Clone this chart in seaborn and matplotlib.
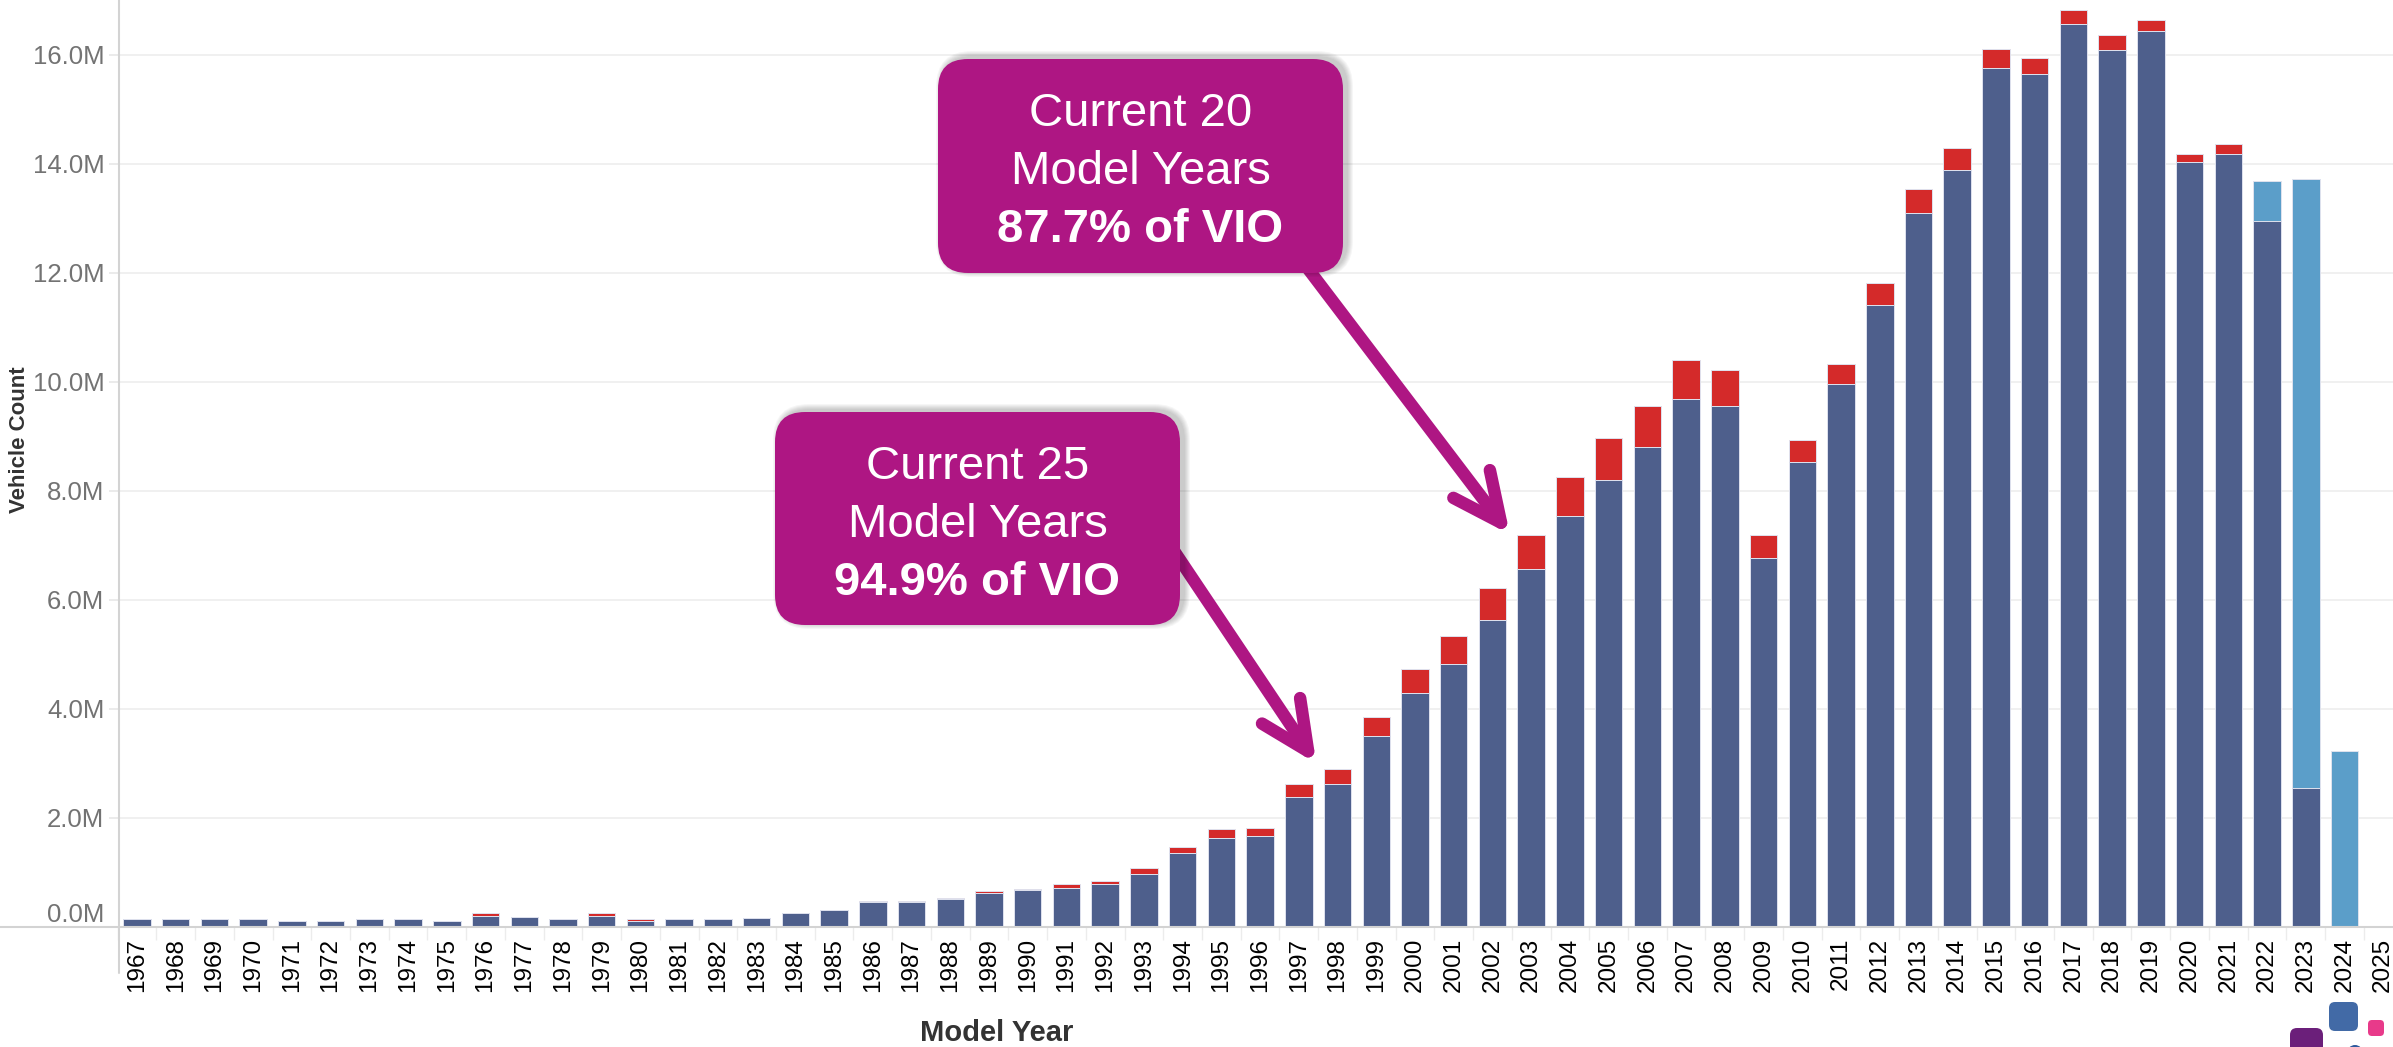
import numpy as np
import pandas as pd
import matplotlib.pyplot as plt
import seaborn as sns
from matplotlib.patches import FancyBboxPatch, Circle
from matplotlib.lines import Line2D
from matplotlib.transforms import IdentityTransform

W, H = 2393, 1047

# Data (millions of vehicles)
years = list(range(1967, 2026))
dark = [0.14, 0.14, 0.14, 0.14, 0.11, 0.11, 0.14, 0.14, 0.11, 0.21,   # 1967-1976
        0.18, 0.14, 0.21, 0.11, 0.14, 0.14, 0.17, 0.25, 0.31, 0.46,   # 1977-1986
        0.46, 0.51, 0.63, 0.67, 0.72, 0.78, 0.98, 1.35, 1.64, 1.67,   # 1987-1996
        2.38, 2.63, 3.50, 4.29, 4.83, 5.63, 6.56, 7.53, 8.19, 8.81,   # 1997-2006
        9.68, 9.56, 6.76, 8.52, 9.95, 11.40, 13.10, 13.89, 15.75, 15.64,  # 2007-2016
        16.56, 16.08, 16.43, 14.03, 14.18, 12.94, 2.54, 0.0, 0.0]     # 2017-2025
red = [0, 0, 0, 0, 0, 0, 0, 0, 0, 0.05,
       0, 0, 0.05, 0.04, 0, 0, 0, 0, 0, 0.02,
       0.02, 0.03, 0.03, 0.02, 0.06, 0.06, 0.10, 0.12, 0.15, 0.15,
       0.24, 0.26, 0.35, 0.45, 0.50, 0.59, 0.62, 0.72, 0.77, 0.75,
       0.71, 0.65, 0.42, 0.41, 0.38, 0.41, 0.44, 0.39, 0.36, 0.30,
       0.26, 0.27, 0.21, 0.15, 0.18, 0, 0, 0, 0]
light = [0] * 55 + [0.74, 11.17, 3.22, 0]

y_ticks = list(range(0, 17, 2))
y_labels = [f"{v:.1f}M" for v in y_ticks]

DARK = "#4e5f8c"
RED = "#d42a2a"
LIGHT = "#5b9ec9"
MAG = "#ae1683"

df = pd.DataFrame({"year": [str(y) for y in years], "dark": dark, "red": red, "light": light})
df["with_red"] = df["dark"] + df["red"]
df["with_light"] = df["dark"] + df["light"]

sns.set_theme(style="white")
plt.rcParams["font.family"] = ["Liberation Sans", "DejaVu Sans"]

fig = plt.figure(figsize=(W / 100, H / 100), dpi=100)
ax = fig.add_axes([117.6 / W, (H - 927) / H, 2285.0 / W, 927 / H])

for col, c in [("with_red", RED), ("with_light", LIGHT), ("dark", DARK)]:
    sns.barplot(data=df, x="year", y=col, color=c, saturation=1, width=0.71,
                errorbar=None, edgecolor="#dfe2ee", linewidth=0.7, ax=ax)

ax.set_xlim(-0.5, len(years) - 0.5)
ax.set_ylim(0, 17.0)
for s in ax.spines.values():
    s.set_visible(False)
ax.set_xlabel("")
ax.set_ylabel("")

ax.set_yticks(y_ticks)
ax.set_yticklabels(y_labels)
ax.yaxis.grid(True, color="#efefef", lw=1.3)
ax.set_axisbelow(True)
ax.tick_params(axis="y", left=True, length=6.5, width=1.1, color="#e6e6e6", pad=3,
               labelsize=18.5, labelcolor="#737373")
ax.get_yticklabels()[0].set_va("bottom")

ax.tick_params(axis="x", which="major", bottom=False, length=0, pad=8,
               labelsize=17.5, labelcolor="black", labelrotation=90)
ax.set_xticks(np.arange(-0.5, len(years), 1), minor=True)
ax.tick_params(axis="x", which="minor", bottom=True, length=9, width=1, color="#ececec")

# pane lines
pix = IdentityTransform()
fig.add_artist(Line2D([0, W], [H - 927, H - 927], transform=pix, color="#d3d3d3", lw=1.5))
fig.add_artist(Line2D([119, 119], [H, H - 973], transform=pix, color="#d3d3d3", lw=1.5))

fig.text(997, H - 1033, "Model Year", transform=pix, ha="center", va="center",
         fontsize=21, fontweight="bold", color="#333333")
fig.text(20, H - 440, "Vehicle Count", transform=pix, rotation=90, ha="center", va="center",
         fontsize=16, fontweight="bold", color="#333333")

# arrows
arrow_style = dict(arrowstyle="->,head_length=3.5,head_width=1.65", color=MAG, lw=9,
                   shrinkA=0, shrinkB=0, mutation_scale=10, capstyle="round", joinstyle="round")
ax.annotate("", xy=(35.45, 7.2), xycoords="data", xytext=(1290, H - 245),
            textcoords="figure pixels", arrowprops=arrow_style)
ax.annotate("", xy=(30.45, 3.0), xycoords="data", xytext=(1160, H - 530),
            textcoords="figure pixels", arrowprops=arrow_style)


def callout(x0, y0, w, h, l1, l2, l3):
    yb = H - (y0 + h)
    for k in range(1, 7):
        fig.add_artist(FancyBboxPatch((x0 + 4 - k, yb + 2 - k), w + 2 * k, h + 2 * k,
                                      boxstyle=f"round,pad=0,rounding_size={30 + k}",
                                      fc="black", ec="none", alpha=0.035, transform=pix))
    fig.add_artist(FancyBboxPatch((x0, yb), w, h, boxstyle="round,pad=0,rounding_size=30",
                                  fc=MAG, ec="none", transform=pix))
    cx = x0 + w / 2
    fig.text(cx, H - (y0 + 67), l1, transform=pix, ha="center", va="baseline", fontsize=34, color="white")
    fig.text(cx, H - (y0 + 125), l2, transform=pix, ha="center", va="baseline", fontsize=34, color="white")
    fig.text(cx, H - (y0 + 183), l3, transform=pix, ha="center", va="baseline", fontsize=34,
             color="white", fontweight="bold")


callout(938, 59, 405, 214, "Current 20", "Model Years", "87.7% of VIO")
callout(775, 412, 405, 213, "Current 25", "Model Years", "94.9% of VIO")

# logo fragment, bottom right
fig.add_artist(FancyBboxPatch((2329, H - 1031), 29, 29, boxstyle="round,pad=0,rounding_size=6",
                              fc="#426aa6", ec="none", transform=pix))
fig.add_artist(FancyBboxPatch((2368, H - 1036), 16, 16, boxstyle="round,pad=0,rounding_size=4",
                              fc="#e83a8a", ec="none", transform=pix))
fig.add_artist(FancyBboxPatch((2290, H - 1062), 33, 34, boxstyle="round,pad=0,rounding_size=7",
                              fc="#6b1f7a", ec="none", transform=pix))
fig.add_artist(Circle((2355, H - 1053), 8, fc="#2e5a9e", ec="none", transform=pix))

fig.savefig("out.png", dpi=100)
